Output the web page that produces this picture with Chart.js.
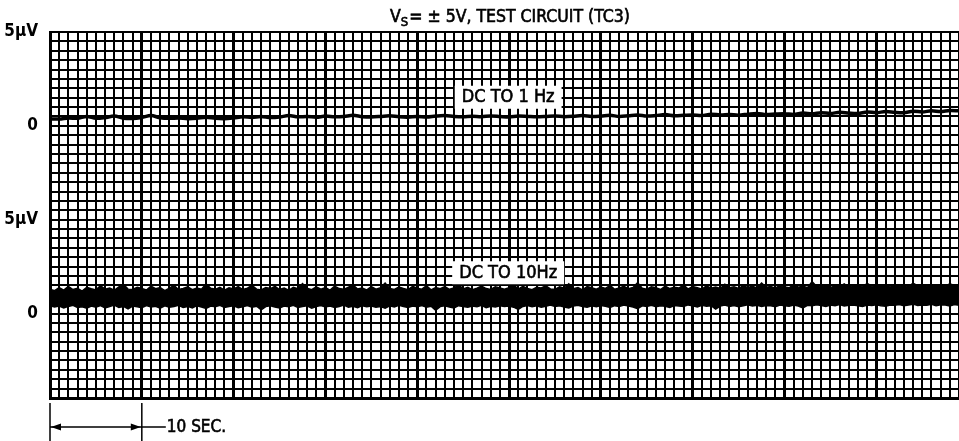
<!DOCTYPE html>
<html>
<head>
<meta charset="utf-8">
<script src="https://cdn.jsdelivr.net/npm/chart.js@4.4.1/dist/chart.umd.min.js"></script>
<style>
  html, body { margin: 0; padding: 0; background: #fff; }
  #wrap { width: 959px; height: 441px; }
</style>
</head>
<body>
<div id="wrap"><canvas id="noiseChart" width="959" height="441"></canvas></div>
<script>
// —––– Data (µV, read off the recorder strip) ––––
// DC to 1 Hz trace, one sample per second
const dc1Hz = [
  0.38,0.36,0.42,0.40,0.50,0.40,0.44,0.52,0.41,0.39,
  0.45,0.55,0.43,0.40,0.42,0.38,0.40,0.46,0.40,0.38,
  0.42,0.48,0.45,0.50,0.44,0.47,0.55,0.48,0.50,0.46,
  0.52,0.48,0.50,0.56,0.49,0.47,0.50,0.54,0.48,0.46,
  0.50,0.47,0.52,0.55,0.50,0.48,0.51,0.49,0.53,0.50,
  0.47,0.52,0.50,0.48,0.50,0.53,0.49,0.51,0.55,0.50,
  0.52,0.56,0.50,0.54,0.58,0.52,0.55,0.60,0.54,0.56,
  0.58,0.55,0.62,0.58,0.60,0.57,0.62,0.66,0.60,0.63,
  0.65,0.60,0.68,0.64,0.70,0.66,0.72,0.68,0.66,0.74,
  0.70,0.76,0.72,0.70,0.78,0.74,0.80,0.76,0.82,0.80
];

// DC to 10 Hz band, upper and lower edge, two samples per second
const dc10HzUpper = [
  1.30,1.22,1.38,1.25,1.45,1.28,1.35,1.20,1.40,1.32,
  1.26,1.48,1.30,1.36,1.24,1.42,1.55,1.30,1.28,1.40,
  1.34,1.25,1.46,1.32,1.38,1.22,1.35,1.50,1.28,1.33,
  1.42,1.27,1.36,1.30,1.58,1.35,1.29,1.40,1.25,1.37,
  1.31,1.44,1.28,1.35,1.50,1.30,1.26,1.38,1.33,1.45,
  1.28,1.36,1.24,1.40,1.32,1.60,1.35,1.27,1.42,1.30,
  1.38,1.25,1.46,1.33,1.29,1.40,1.52,1.31,1.36,1.26,
  1.43,1.30,1.38,1.62,1.34,1.28,1.41,1.33,1.27,1.45,
  1.35,1.30,1.48,1.26,1.39,1.32,1.44,1.29,1.36,1.55,
  1.31,1.40,1.27,1.35,1.46,1.33,1.28,1.42,1.36,1.30,
  1.38,1.52,1.30,1.45,1.34,1.27,1.40,1.36,1.48,1.31,
  1.29,1.43,1.35,1.58,1.32,1.38,1.26,1.44,1.37,1.30,
  1.41,1.34,1.50,1.29,1.36,1.45,1.32,1.39,1.65,1.35,
  1.30,1.42,1.37,1.28,1.46,1.33,1.40,1.36,1.52,1.31,
  1.44,1.38,1.30,1.47,1.35,1.41,1.33,1.56,1.37,1.42,
  1.34,1.48,1.39,1.45,1.36,1.62,1.40,1.44,1.35,1.50,
  1.42,1.37,1.55,1.40,1.46,1.38,1.70,1.44,1.41,1.52,
  1.39,1.47,1.43,1.58,1.40,1.50,1.45,1.42,1.60,1.46,
  1.44,1.52,1.48,1.41,1.56,1.45,1.50,1.43,1.62,1.47,
  1.49,1.45,1.55,1.48,1.52,1.46,1.58,1.50,1.47
];
const dc10HzLower = [
  0.42,0.35,0.40,0.30,0.38,0.44,0.32,0.36,0.28,0.40,
  0.34,0.42,0.30,0.37,0.45,0.33,0.38,0.25,0.40,0.36,
  0.31,0.43,0.35,0.39,0.29,0.41,0.34,0.37,0.44,0.32,
  0.38,0.30,0.42,0.35,0.27,0.40,0.36,0.44,0.33,0.38,
  0.41,0.31,0.36,0.43,0.34,0.39,0.20,0.37,0.42,0.35,
  0.30,0.40,0.36,0.44,0.33,0.38,0.41,0.29,0.37,0.43,
  0.35,0.40,0.32,0.38,0.45,0.34,0.39,0.31,0.42,0.36,
  0.40,0.33,0.37,0.28,0.41,0.35,0.44,0.38,0.32,0.40,
  0.36,0.43,0.34,0.39,0.18,0.37,0.41,0.35,0.30,0.42,
  0.38,0.33,0.40,0.36,0.44,0.31,0.39,0.35,0.42,0.37,
  0.40,0.34,0.22,0.38,0.43,0.36,0.41,0.33,0.39,0.45,
  0.37,0.42,0.35,0.30,0.40,0.44,0.38,0.34,0.41,0.36,
  0.43,0.39,0.33,0.42,0.37,0.45,0.40,0.35,0.26,0.41,
  0.38,0.44,0.36,0.42,0.39,0.33,0.43,0.40,0.37,0.46,
  0.41,0.35,0.44,0.39,0.42,0.24,0.40,0.45,0.38,0.43,
  0.36,0.42,0.47,0.40,0.44,0.38,0.43,0.41,0.36,0.45,
  0.42,0.39,0.46,0.40,0.30,0.44,0.41,0.47,0.43,0.38,
  0.45,0.42,0.48,0.40,0.44,0.46,0.41,0.37,0.45,0.43,
  0.47,0.42,0.39,0.46,0.44,0.48,0.41,0.45,0.50,0.43,
  0.46,0.44,0.49,0.42,0.47,0.45,0.40,0.48,0.44
];

// Axis labels (paper divisions -> text)
const yTickLabels = { 39: '5μV', 29: '0', 19: '5μV', 9: '0' };
const traceNotes = [
  { text: 'DC TO 1 Hz', sec: 49.9, div: 32.1 },
  { text: 'DC TO 10Hz', sec: 49.9, div: 13.4 }
];
const titleText = ['V', 'S', '= ± 5V, TEST CIRCUIT (TC3)'];
const scaleBarText = '10 SEC.';

// —––– Paper layout ––––
const SECONDS = 99, DIVISIONS = 39;
const ZERO_1HZ = 29, ZERO_10HZ = 9, DIV_PER_UV = 2;
const FONT = '"Liberation Sans Narrow", "DejaVu Sans Condensed", "Roboto", sans-serif';

const toDiv = (zero, v) => zero + v * DIV_PER_UV;

// fill + thin stroke, to get the heavy look of the printed lettering
function inkText(ctx, text, x, y) {
  ctx.fillText(text, x, y);
  ctx.strokeText(text, x, y);
}

const paperNotes = {
  id: 'paperNotes',
  afterDatasetsDraw(chart) {
    const { ctx, scales: { x, y } } = chart;
    ctx.save();
    ctx.font = `18px ${FONT}`;
    ctx.textAlign = 'center';
    ctx.textBaseline = 'middle';
    ctx.lineWidth = 0.6;
    ctx.strokeStyle = '#000';
    traceNotes.forEach(n => {
      const cx = x.getPixelForValue(n.sec), cy = y.getPixelForValue(n.div);
      const w = ctx.measureText(n.text).width + 14;
      ctx.fillStyle = '#fff';
      ctx.fillRect(cx - w / 2, cy - 11, w, 23);
      ctx.fillStyle = '#000';
      inkText(ctx, n.text, cx, cy + 1);
    });
    ctx.restore();
  },
  afterDraw(chart) {
    const { ctx, scales: { x } } = chart;
    ctx.save();
    ctx.fillStyle = '#000';
    ctx.strokeStyle = '#000';
    ctx.lineWidth = 0.6;

    // title with subscript S
    const big = `17.5px ${FONT}`, small = `13px ${FONT}`;
    ctx.font = big; const w0 = ctx.measureText(titleText[0]).width, w2 = ctx.measureText(titleText[2]).width;
    ctx.font = small; const w1 = ctx.measureText(titleText[1]).width;
    let tx = 510 - (w0 + w1 + w2 + 1) / 2;
    const ty = 22;
    ctx.textBaseline = 'alphabetic';
    ctx.textAlign = 'left';
    ctx.font = big; inkText(ctx, titleText[0], tx, ty); tx += w0;
    ctx.font = small; inkText(ctx, titleText[1], tx, ty + 4); tx += w1 + 1;
    ctx.font = big; inkText(ctx, titleText[2], tx, ty);

    // 10 second scale bar
    const x0 = x.getPixelForValue(0), x1 = x.getPixelForValue(10), by = 427;
    ctx.lineWidth = 1.5;
    ctx.beginPath();
    ctx.moveTo(x0, 403); ctx.lineTo(x0, 441);
    ctx.moveTo(x1, 403); ctx.lineTo(x1, 441);
    ctx.moveTo(x0, by); ctx.lineTo(x1 + 24, by);
    ctx.stroke();
    ctx.beginPath();
    ctx.moveTo(x0 + 1, by); ctx.lineTo(x0 + 11, by - 3.5); ctx.lineTo(x0 + 11, by + 3.5); ctx.closePath();
    ctx.moveTo(x1 - 1, by); ctx.lineTo(x1 - 11, by - 3.5); ctx.lineTo(x1 - 11, by + 3.5); ctx.closePath();
    ctx.fill();
    ctx.font = `17px ${FONT}`;
    ctx.textBaseline = 'middle';
    ctx.lineWidth = 0.6;
    inkText(ctx, scaleBarText, x1 + 25, by + 1);
    ctx.restore();
  }
};

new Chart(document.getElementById('noiseChart').getContext('2d'), {
  type: 'line',
  data: {
    datasets: [
      {
        label: 'DC to 1 Hz',
        data: dc1Hz.map((v, i) => ({ x: i, y: toDiv(ZERO_1HZ, v) })),
        borderColor: '#000', borderWidth: 3.5, pointRadius: 0, tension: 0.3, fill: false
      },
      {
        label: 'DC to 10 Hz (low)',
        data: dc10HzLower.map((v, i) => ({ x: i / 2, y: toDiv(ZERO_10HZ, v) })),
        borderColor: '#000', borderWidth: 1.5, pointRadius: 0, tension: 0, fill: false
      },
      {
        label: 'DC to 10 Hz (high)',
        data: dc10HzUpper.map((v, i) => ({ x: i / 2, y: toDiv(ZERO_10HZ, v) })),
        borderColor: '#000', borderWidth: 1.5, pointRadius: 0, tension: 0,
        fill: '-1', backgroundColor: '#000'
      }
    ]
  },
  options: {
    responsive: false,
    devicePixelRatio: 1,
    animation: false,
    layout: { padding: { top: 32, bottom: 43, left: 0, right: 0 } },
    plugins: { legend: { display: false }, tooltip: { enabled: false }, title: { display: false } },
    scales: {
      x: {
        type: 'linear', min: 0, max: SECONDS,
        ticks: { display: false, stepSize: 1, autoSkip: false },
        grid: {
          color: '#000', drawTicks: false,
          lineWidth: c => (c.tick && c.tick.value % 10 === 0) ? 3 : 2
        },
        border: { display: true, color: '#000', width: 3 },
        afterFit: s => { s.height = 0; }
      },
      y: {
        type: 'linear', min: 0, max: DIVISIONS,
        ticks: {
          stepSize: 1, autoSkip: false, padding: 12, color: '#000',
          font: { family: FONT, size: 17, weight: '600' },
          callback: v => yTickLabels[v] || ''
        },
        grid: { color: '#000', drawTicks: false, lineWidth: 2 },
        border: { display: true, color: '#000', width: 3 },
        afterFit: s => { s.width = 50; }
      }
    }
  },
  plugins: [paperNotes]
});
</script>
</body>
</html>
